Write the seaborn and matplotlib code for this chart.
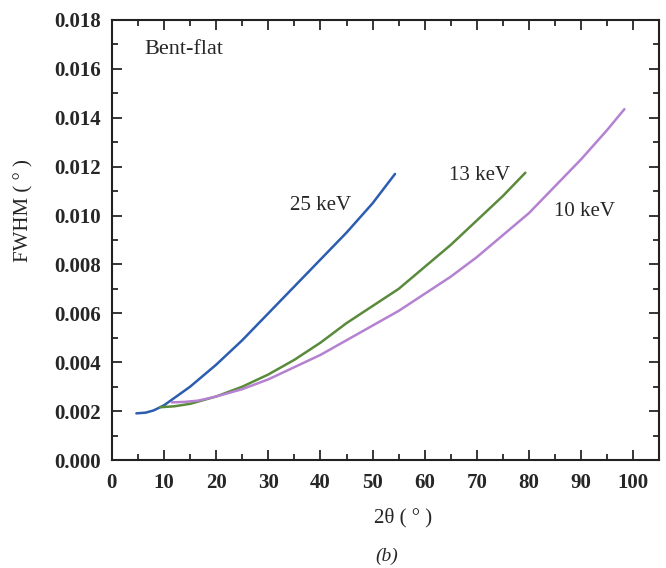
"""FWHM versus 2theta for the bent-flat configuration at three energies."""
import pandas as pd
import matplotlib
matplotlib.use("Agg")
import matplotlib.pyplot as plt
from matplotlib.ticker import MultipleLocator
import seaborn as sns

# 25 keV
two_theta_25 = [4.7, 6.5, 8, 10, 15, 20, 25, 30, 35, 40, 45, 50, 54.3]
fwhm_25 = [0.00191, 0.00194, 0.00203, 0.00224, 0.0030, 0.0039, 0.0049,
           0.0060, 0.0071, 0.0082, 0.0093, 0.0105, 0.0117]

# 13 keV
two_theta_13 = [9.2, 12, 15, 20, 25, 30, 35, 40, 45, 50, 55, 60, 65, 70, 75, 79.3]
fwhm_13 = [0.00216, 0.0022, 0.0023, 0.0026, 0.0030, 0.0035, 0.0041, 0.0048,
           0.0056, 0.0063, 0.0070, 0.0079, 0.0088, 0.0098, 0.0108, 0.01175]

# 10 keV
two_theta_10 = [11.5, 14, 16.5, 18, 20, 25, 30, 35, 40, 45, 50, 55, 60, 65,
                70, 75, 80, 85, 90, 95, 98.3]
fwhm_10 = [0.00236, 0.00238, 0.00243, 0.0025, 0.0026, 0.0029, 0.0033, 0.0038,
           0.0043, 0.0049, 0.0055, 0.0061, 0.0068, 0.0075, 0.0083, 0.0092,
           0.0101, 0.0112, 0.0123, 0.0135, 0.01435]

energies = ["25 keV", "13 keV", "10 keV"]
colors = ["#2c5db0", "#5a8a3c", "#b482d0"]


def main():
    sns.set_style("ticks")
    plt.rcParams["font.family"] = ["Liberation Serif", "DejaVu Serif"]

    data = pd.concat([
        pd.DataFrame({"two_theta": two_theta_25, "fwhm": fwhm_25, "energy": energies[0]}),
        pd.DataFrame({"two_theta": two_theta_13, "fwhm": fwhm_13, "energy": energies[1]}),
        pd.DataFrame({"two_theta": two_theta_10, "fwhm": fwhm_10, "energy": energies[2]}),
    ])

    fig = plt.figure(figsize=(6.66, 5.68), dpi=100)
    ax = fig.add_axes([0.168, 0.190, 0.822, 0.775])
    sns.lineplot(
        data=data, x="two_theta", y="fwhm", hue="energy",
        palette=dict(zip(energies, colors)), linewidth=1.8,
        legend=False, sort=False, ax=ax
    )

    ax.set_xlim(0, 105)
    ax.set_ylim(0, 0.018)
    ax.set_xticks(range(0, 101, 10))
    ax.xaxis.set_minor_locator(MultipleLocator(5))
    ax.yaxis.set_major_locator(MultipleLocator(0.002))
    ax.yaxis.set_minor_locator(MultipleLocator(0.001))
    ax.yaxis.set_major_formatter(lambda v, pos: f"{v:.3f}")
    ax.tick_params(which="both", direction="in", top=True, right=True, width=1.3)
    ax.tick_params(which="major", length=7)
    ax.tick_params(which="minor", length=4)
    ax.tick_params(axis="x", which="major", pad=9)
    ax.tick_params(axis="y", which="major", pad=8)
    for label in ax.get_xticklabels() + ax.get_yticklabels():
        label.set_fontweight("bold")
        label.set_fontsize(15)
    for spine in ax.spines.values():
        spine.set_linewidth(1.5)
        spine.set_color("#222222")

    ax.set_xlabel("2θ ( ° )", fontsize=15)
    ax.set_ylabel("FWHM ( ° )", fontsize=15)
    ax.xaxis.set_label_coords(0.532, -0.109)
    ax.yaxis.set_label_coords(-0.144, 0.566)

    ax.text(6.3, 0.01677, "Bent-flat", fontsize=16, va="center")
    ax.text(34.2, 0.01043, "25 keV", fontsize=15, va="center")
    ax.text(64.6, 0.01162, "13 keV", fontsize=15, va="center")
    ax.text(84.8, 0.01015, "10 keV", fontsize=15, va="center")

    fig.text(0.581, 0.021, "(b)", fontsize=14, style="italic", ha="center", va="center")
    fig.savefig("out.png", dpi=100)


if __name__ == "__main__":
    main()
